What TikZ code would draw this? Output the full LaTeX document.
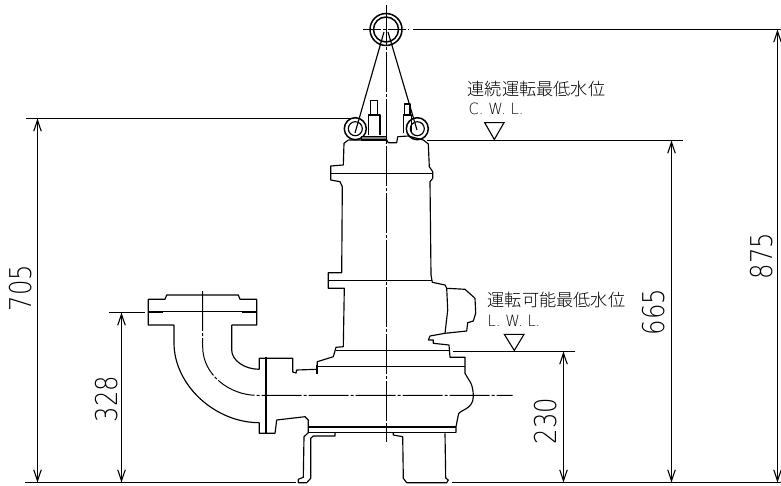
\documentclass[tikz,border=0pt]{standalone}
\usepackage{fontspec}
\newfontfamily\dimfont[FakeStretch=0.81]{DejaVu Sans ExtraLight}
\newfontfamily\latfont[FakeStretch=0.95]{DejaVu Sans ExtraLight}
\newfontfamily\cjkfont{Noto Sans CJK JP Light}
\usetikzlibrary{arrows.meta}

\tikzset{
  outline/.style={line width=1.15pt, line join=round},
  heavyline/.style={line width=2pt},
  extline/.style={line width=1.1pt},
  centerline/.style={line width=1pt, dash pattern=on 40pt off 2pt on 3pt off 2pt},
  dimline/.style={line width=1.1pt, {Straight Barb[length=11pt,width=7.5pt]}-{Straight Barb[length=11pt,width=7.5pt]}},
  dimtext/.style={rotate=90, inner sep=0pt, font=\dimfont\fontsize{30}{30}\selectfont},
  jptext/.style={anchor=west, inner sep=0pt, font=\cjkfont\fontsize{17.2}{17.2}\selectfont},
  lattext/.style={anchor=west, inner sep=0pt, font=\latfont\fontsize{15.5}{15.5}\selectfont},
  level/.style={line width=1.1pt, line join=miter}
}

\begin{document}
\begin{tikzpicture}[x=1pt, y=-1pt]
  \useasboundingbox (0, 0) rectangle (781, 486);

  % center lines
  \draw[centerline] (386, 5) -- (386, 442);
  \draw[centerline, dash pattern=on 18pt off 2pt on 3pt off 2pt] (363, 29.5) -- (409, 29.5);
  \draw[centerline] (202.7, 291) -- (202.7, 347)
    .. controls (202.7, 375) and (230, 395.3) .. (256.7, 395.3) -- (512.7, 395.3);

  % lifting rings and sling
  \draw[outline, line width=1.5pt] (386, 29.5) circle[radius=16];
  \draw[outline, line width=1.5pt] (386, 29.5) circle[radius=12.5];
  \draw[outline, line width=1.5pt] (355.3, 128.7) circle[radius=11];
  \draw[outline] (355.3, 128.7) circle[radius=7];
  \draw[outline, line width=1.5pt] (417.3, 128.7) circle[radius=11];
  \draw[outline] (417.3, 128.7) circle[radius=7];
  \draw[outline] (384, 32) -- (355, 133);
  \draw[outline] (388, 32) -- (417, 130);

  % eye bolts
  \draw[outline] (370.7, 115) -- (370.7, 100.7) -- (377.3, 100.7) -- (377.3, 115);
  \draw[outline] (368.3, 135) -- (368.3, 115) -- (380, 115) -- (380, 135);
  \draw[outline] (404.7, 115) -- (404.7, 104) -- (410, 104) -- (410, 115);
  \draw[outline] (403.3, 133.3) -- (403.3, 115) -- (411.7, 115) -- (411.7, 133.3);
  \draw[outline, fill=gray] (361.7, 136.3) rectangle (386.7, 140);

  % motor, left side
  \draw[outline] (348.3, 140) -- (344, 143.3) -- (343.3, 165) -- (330.7, 166) -- (330.7, 180)
    -- (340, 181.7) -- (342.3, 186.7) -- (341.7, 272.7) -- (328.3, 272.7) -- (328.3, 288.3)
    -- (344.3, 288.3) -- (343.3, 346.7) -- (336, 347.3) -- (333.3, 356.7) -- (317.3, 361.7)
    -- (317.3, 369.3) -- (296.7, 370) -- (296, 373) -- (292.7, 372) -- (292.7, 358.3)
    -- (266, 358.3) -- (259.3, 358.3) -- (259.3, 369.3);
  % motor, right side
  \draw[outline] (348.3, 140) -- (386.7, 140) -- (388.3, 142.7) -- (396.7, 142.7) -- (397.7, 136.7)
    -- (408.3, 136) -- (423.3, 140) -- (428.3, 144) -- (429.3, 166.7) -- (432.7, 171.7)
    -- (432.7, 178.3) -- (430, 181.7) -- (431, 275) -- (432.3, 282.3) -- (445, 285)
    -- (446.7, 288.3) -- (465, 289.3) -- (475, 298.3) -- (475.7, 313.3) -- (473.3, 321)
    -- (467.7, 322.7) -- (466.7, 331) -- (445, 333.3) -- (430, 336) -- (428.3, 340)
    -- (433.3, 340) -- (433.3, 343.3) -- (449, 345) -- (450, 357.3) -- (465, 357.3)
    -- (465, 373.3) .. controls (468, 380) and (473.3, 382) .. (473.3, 396.7)
    .. controls (473.3, 410) and (458, 410) .. (458.3, 415) -- (456, 426.7) -- (456, 432.7);
  \draw[outline] (446.7, 288.3) -- (447.7, 310) -- (445, 333.3);
  \draw[outline] (330.7, 173.3) -- (432.7, 173.3);
  \draw[outline] (328.3, 280.7) -- (432.3, 280.7);
  \draw[outline] (336, 350.7) -- (449, 350.7);
  \draw[outline] (317.3, 366.7) -- (465, 366.7);
  \draw[heavyline] (317.3, 365) -- (317.3, 374);

  % casing bottom and feet
  \draw[outline] (259.3, 422.7) -- (259.3, 433.3) -- (275, 433.3) -- (276.7, 420) -- (305, 416.7)
    -- (308.3, 420) -- (308.3, 432.7);
  \draw[outline, line width=1.6pt] (308.3, 426.7) -- (456, 426.7);
  \draw[outline] (308.3, 432.7) -- (456, 432.7);
  \draw[outline] (335, 433) -- (335, 436) -- (313.3, 436) -- (310.7, 438.3) -- (310.7, 478.3)
    -- (306.7, 482.7) -- (298.3, 482.7) -- (298.3, 479.3) -- (303.3, 477.3) -- (304, 436.7)
    -- (308.3, 432.7);
  \draw[outline] (393.3, 432.7) -- (393.3, 435) -- (402.7, 436.7) -- (403.3, 478.3) -- (406.7, 482.7)
    -- (446.7, 482.7) -- (448.3, 480) -- (445.7, 478) -- (445, 433.3);

  % elbow and flanges
  \draw[outline] (174, 325) -- (148.3, 325) -- (148.3, 299.3) -- (165, 299.3) -- (166.7, 295)
    -- (238.3, 295) -- (240, 299.3) -- (256.7, 299.3) -- (256.7, 325) -- (231.7, 325);
  \draw[outline] (148.3, 311.7) -- (256.7, 311.7);
  \draw[heavyline] (148.3, 311.7) -- (163, 311.7);
  \draw[heavyline] (242, 311.7) -- (256.7, 311.7);
  \draw[outline] (174, 325) -- (174, 343) .. controls (174, 385) and (215, 422.7) .. (259.3, 422.7);
  \draw[outline] (231.7, 325) -- (231.7, 350) .. controls (231.7, 360) and (244, 369.3) .. (259.3, 369.3);
  \draw[heavyline] (266, 357.3) -- (266, 433.3);

  % water levels
  \draw[level] (484.7, 122.7) -- (504, 122.7) -- (494.3, 139.5) -- cycle;
  \draw[level] (504.3, 334.3) -- (524, 334.3) -- (514.3, 350.5) -- cycle;
  \node[jptext] (cwljp) at (467.5, 89) {連続運転最低水位};
  \node[lattext] (cwllat) at (468.5, 109) {C. W. L.};
  \node[jptext] (lwljp) at (487.5, 300) {運転可能最低水位};
  \node[lattext] (lwllat) at (487.5, 320.5) {L. W. L.};

  % extension lines
  \coordinate (top875) at (777.5, 29.5);
  \coordinate (top705) at (37.5, 118.5);
  \coordinate (top665) at (671.5, 140.5);
  \coordinate (top328) at (121.5, 312.5);
  \coordinate (top230) at (563.5, 351.5);
  \coordinate (bot875) at (777.5, 482.5);
  \coordinate (bot705) at (37.5, 482.5);
  \coordinate (bot665) at (671.5, 482.5);
  \coordinate (bot328) at (121.5, 482.5);
  \coordinate (bot230) at (563.5, 482.5);
  \draw[extline] (413, 29.5) -- (781, 29.5);
  \draw[extline] (26, 118.5) -- (350, 118.5);
  \draw[extline] (427, 140.5) -- (683, 140.5);
  \draw[extline] (109, 312.5) -- (145, 312.5);
  \draw[extline] (453, 351.5) -- (575, 351.5);
  \draw[extline] (25, 482.5) -- (296, 482.5);
  \draw[extline] (452, 482.5) -- (781, 482.5);

  % dimensions
  \draw[dimline] (top875) -- (bot875);
  \draw[dimline] (top705) -- (bot705);
  \draw[dimline] (top665) -- (bot665);
  \draw[dimline] (top328) -- (bot328);
  \draw[dimline] (top230) -- (bot230);
  \node[dimtext] (val875) at (761.7, 256) {875};
  \node[dimtext] (val705) at (21, 288) {705};
  \node[dimtext] (val665) at (654, 312) {665};
  \node[dimtext] (val328) at (107, 399) {328};
  \node[dimtext] (val230) at (545.7, 421) {230};
\end{tikzpicture}
\end{document}
